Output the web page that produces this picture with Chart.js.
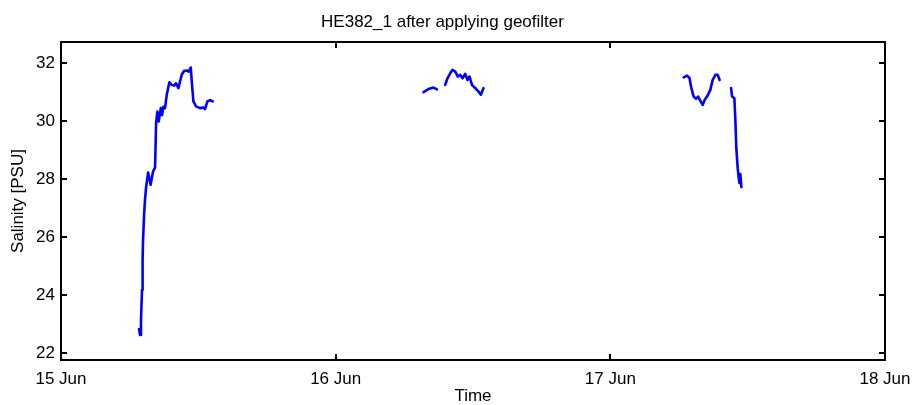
<!DOCTYPE html>
<html>
<head>
<meta charset="utf-8">
<title>HE382_1 after applying geofilter</title>
<script src="https://cdn.jsdelivr.net/npm/chart.js@4/dist/chart.umd.min.js"></script>
<style>
    html, body { margin: 0; padding: 0; background: #fff; }
    #wrap { width: 915px; height: 405px; }
</style>
</head>
<body>
<div id="wrap"><canvas id="salinityChart"></canvas></div>
<script>
// tick labels, one per day (x value = hours since 15 Jun 00:00)
const dayLabels = ['15 Jun', '16 Jun', '17 Jun', '18 Jun'];
const salinityTicks = [22, 24, 26, 28, 30, 32];

// hours since 15 Jun 00:00, null salinity = gap in the track
const hours = [
    6.82, 6.91, 6.99, 7.08, 7.13, 7.17, 7.26, 7.34, 7.43, 7.61,
    7.83, 8.04, 8.22, 8.31, 8.42, 8.54, 8.72, 8.83, 8.94, 9.09,
    9.24, 9.47, 9.68, 9.91, 10.05, 10.26, 10.40, 10.55, 10.75, 10.99,
    11.16, 11.34, 11.45, 11.57, 11.80, 12.15, 12.44, 12.59, 12.79, 13.03,
    13.26, 20.0,
    31.68, 32.11, 32.55, 32.85, 33.2,
    33.57, 33.77, 34.01, 34.21, 34.45, 34.68, 34.88, 35.09, 35.32, 35.52,
    35.70, 35.91, 36.20, 36.48, 36.69, 36.92, 45.0,
    54.41, 54.70, 54.91, 55.08, 55.28, 55.49, 55.67, 55.87, 56.07, 56.24,
    56.45, 56.74, 56.94, 57.18, 57.38, 57.55, 58.0,
    58.55, 58.64, 58.84, 58.93, 59.01, 59.13, 59.22, 59.28, 59.36, 59.45
];
const salinity = [
    22.83, 22.62, 23.14, 24.17, 25.2, 25.9, 26.76, 27.28, 27.69, 28.22,
    27.8, 28.25, 28.4, 29.92, 30.32, 29.98, 30.44, 30.2, 30.49, 30.44,
    30.9, 31.33, 31.24, 31.22, 31.3, 31.13, 31.36, 31.59, 31.72, 31.74,
    31.7, 31.84, 31.24, 30.67, 30.5, 30.44, 30.46, 30.41, 30.67, 30.72,
    30.67, null,
    30.99, 31.1, 31.15, 31.09, null,
    31.24, 31.47, 31.64, 31.76, 31.7, 31.53, 31.59, 31.47, 31.62, 31.41,
    31.53, 31.24, 31.13, 31.01, 30.9, 31.13, null,
    31.5, 31.56, 31.49, 31.13, 30.84, 30.76, 30.84, 30.69, 30.55, 30.72,
    30.84, 31.07, 31.41, 31.59, 31.59, 31.41, null,
    31.13, 30.84, 30.78, 29.98, 29.06, 28.37, 28.03, 27.86, 28.17, 27.72
];

const fontFamily = '"Liberation Sans", Arial, sans-serif';

// Matlab style box with ticks pointing inwards on all four sides
const boxPlugin = {
    id: 'matlabBox',
    afterDraw(chart) {
        const { ctx, chartArea: a, scales } = chart;
        const len = 6;
        ctx.save();
        ctx.strokeStyle = '#000';
        ctx.lineWidth = 2;
        ctx.strokeRect(a.left, a.top, a.right - a.left, a.bottom - a.top);
        ctx.beginPath();
        scales.x.ticks.forEach(t => {
            const px = Math.round(scales.x.getPixelForValue(t.value));
            ctx.moveTo(px, a.bottom); ctx.lineTo(px, a.bottom - len);
            ctx.moveTo(px, a.top); ctx.lineTo(px, a.top + len);
        });
        scales.y.ticks.forEach(t => {
            const py = Math.round(scales.y.getPixelForValue(t.value));
            ctx.moveTo(a.left, py); ctx.lineTo(a.left + len, py);
            ctx.moveTo(a.right, py); ctx.lineTo(a.right - len, py);
        });
        ctx.stroke();
        ctx.restore();
    }
};

const canvas = document.getElementById('salinityChart').getContext('2d');
new Chart(canvas, {
    type: 'line',
    data: {
        datasets: [{
            label: 'Salinity',
            data: hours.map((h, i) => ({ x: h, y: salinity[i] })),
            borderColor: '#0000ff',
            borderWidth: 2.6,
            borderJoinStyle: 'round',
            borderCapStyle: 'round',
            pointRadius: 0,
            tension: 0,
            spanGaps: false,
            fill: false
        }]
    },
    options: {
        responsive: true,
        maintainAspectRatio: false,
        animation: false,
        events: [],
        layout: { padding: { left: 0, right: 30, top: 0, bottom: 0 } },
        plugins: {
            legend: { display: false },
            tooltip: { enabled: false },
            title: {
                display: true,
                text: 'HE382_1 after applying geofilter',
                color: '#000',
                font: { family: fontFamily, size: 17, weight: 'normal' },
                padding: { top: 12, bottom: 9.6 }
            }
        },
        scales: {
            x: {
                type: 'linear',
                min: 0,
                max: 72,
                afterBuildTicks: scale => {
                    scale.ticks = dayLabels.map((_, i) => ({ value: i * 24 }));
                },
                afterFit: scale => {
                    scale.height = 45;
                    scale.paddingLeft = 0;
                    scale.paddingRight = 0;
                },
                grid: { display: false, drawTicks: false },
                border: { display: false },
                ticks: {
                    color: '#000',
                    padding: 9,
                    maxRotation: 0,
                    font: { family: fontFamily, size: 17 },
                    callback: value => dayLabels[Math.round(value / 24)]
                },
                title: {
                    display: true,
                    text: 'Time',
                    color: '#000',
                    font: { family: fontFamily, size: 17, lineHeight: 1 },
                    padding: { top: 0, bottom: 0 }
                }
            },
            y: {
                min: 21.76,
                max: 32.72,
                afterBuildTicks: scale => {
                    scale.ticks = salinityTicks.map(v => ({ value: v }));
                },
                afterFit: scale => { scale.width = 61; },
                grid: { display: false, drawTicks: false },
                border: { display: false },
                ticks: {
                    color: '#000',
                    padding: 6,
                    font: { family: fontFamily, size: 17 }
                },
                title: {
                    display: true,
                    text: 'Salinity [PSU]',
                    color: '#000',
                    font: { family: fontFamily, size: 17 },
                    padding: { top: 8, bottom: 0 }
                }
            }
        }
    },
    plugins: [boxPlugin]
});
</script>
</body>
</html>
